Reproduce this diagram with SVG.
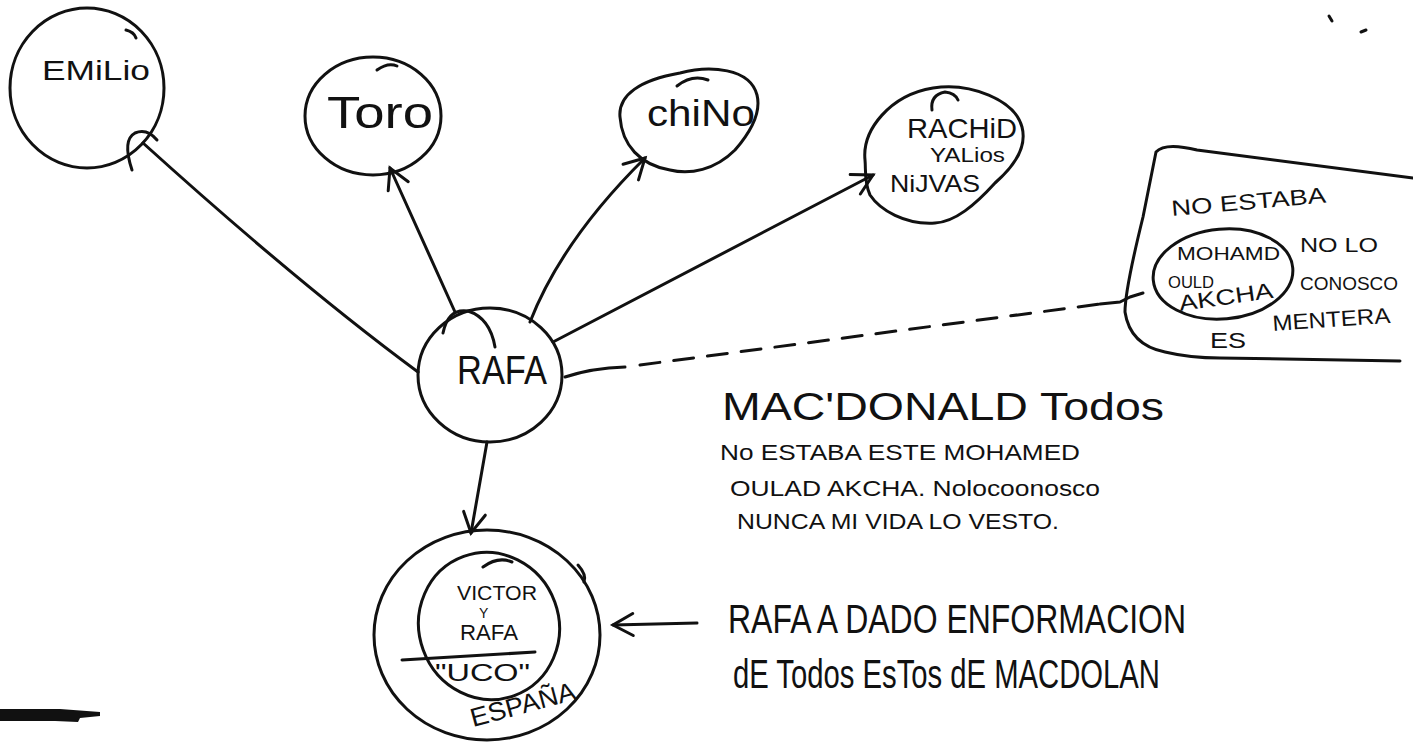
<svg xmlns="http://www.w3.org/2000/svg" width="1413" height="744" viewBox="0 0 1413 744">
<style>
.s{fill:none;stroke:#111;stroke-width:3;stroke-linecap:round;stroke-linejoin:round}
.t{font-family:"Liberation Sans",Arial,sans-serif;fill:#111}
.d{stroke-dasharray:20 14}
</style>
<defs>
<marker id="ah" viewBox="-24 -14 28 28" refX="0" refY="0" markerWidth="28" markerHeight="28" markerUnits="userSpaceOnUse" orient="auto">
<path d="M-20,-11 L0,0 L-20,11" fill="none" stroke="#111" stroke-width="3" stroke-linecap="round"/>
</marker>
</defs>
<rect width="1413" height="744" fill="#fff"/>

<g id="connectors">
<path class="s" d="M418,372 Q300,285 143,143"/>
<path class="s" d="M132,170 Q122,140 135,133 Q147,128 157,140"/>
<path class="s" d="M455,312 L390,168" marker-end="url(#ah)"/>
<path class="s" d="M530,322 Q562,240 645,158" marker-end="url(#ah)"/>
<path class="s" d="M553,342 L873,175" marker-end="url(#ah)"/>
<path class="s" d="M487,442 L471,533" marker-end="url(#ah)"/>
<path class="s" d="M565,377 Q592,368 625,367"/>
<path class="s d" stroke-width="2" d="M640,365 L1100,304"/>
<path class="s" stroke-width="2" d="M1100,304 L1120,302 L1130,297 L1143,293"/>
<path class="s" d="M697,623 L613,625" marker-end="url(#ah)"/>
</g>

<g id="emilio">
<ellipse class="s" cx="87" cy="88" rx="77" ry="80"/>
<path class="s" d="M126,30 Q134,32 136,38"/>
<text class="t" x="42" y="80" font-size="28" textLength="108" lengthAdjust="spacingAndGlyphs">EMiLio</text>
</g>

<g id="toro">
<ellipse class="s" cx="373" cy="116" rx="68" ry="59"/>
<path class="s" d="M377,70 Q388,62 397,66"/>
<text class="t" x="327" y="128" font-size="44" textLength="106" lengthAdjust="spacingAndGlyphs">Toro</text>
</g>

<g id="chino">
<path class="s" d="M620,117 C618,95 640,80 680,73 C710,65 750,68 757,95 C762,115 748,135 735,150 C715,170 690,175 670,170 C640,165 622,145 620,117 Z"/>
<path class="s" d="M677,86 Q692,74 708,80"/>
<text class="t" x="647" y="126" font-size="36" textLength="108" lengthAdjust="spacingAndGlyphs">chiNo</text>
</g>

<g id="rachid">
<path class="s" d="M865,160 C862,130 890,95 933,88 C970,82 1015,100 1022,127 C1028,150 1010,170 995,183 C975,205 955,222 935,223 C905,225 880,210 870,195 C864,182 866,170 865,160 Z"/>
<path class="s" d="M932,110 Q930,95 945,92 Q955,93 958,100"/>
<text class="t" x="907" y="138" font-size="28" textLength="110" lengthAdjust="spacingAndGlyphs">RACHiD</text>
<text class="t" x="930" y="162" font-size="20" textLength="75" lengthAdjust="spacingAndGlyphs">YALios</text>
<text class="t" x="890" y="192" font-size="24" textLength="90" lengthAdjust="spacingAndGlyphs">NiJVAS</text>
</g>

<g id="rafa">
<ellipse class="s" cx="490" cy="375" rx="72" ry="67"/>
<path class="s" d="M443,333 Q448,308 468,311 Q490,318 495,347"/>
<text class="t" x="457" y="384" font-size="40" textLength="90" lengthAdjust="spacingAndGlyphs">RAFA</text>
</g>

<g id="espana">
<ellipse class="s" cx="487" cy="635" rx="113" ry="105"/>
<ellipse class="s" cx="489" cy="626" rx="70" ry="74" transform="rotate(-20 489 626)"/>
<path class="s" d="M483,567 Q498,556 512,562"/>
<path class="s" d="M578,565 Q587,575 584,582"/>
<text class="t" x="457" y="600" font-size="20" textLength="80" lengthAdjust="spacingAndGlyphs">VICTOR</text>
<text class="t" x="479" y="618" font-size="14">Y</text>
<text class="t" x="460" y="640" font-size="22" textLength="58" lengthAdjust="spacingAndGlyphs">RAFA</text>
<path class="s" stroke-width="2.5" d="M402,660 L535,652"/>
<text class="t" x="435" y="681" font-size="24" textLength="95" lengthAdjust="spacingAndGlyphs">"UCO"</text>
<text class="t" x="473" y="727" font-size="26" textLength="108" lengthAdjust="spacingAndGlyphs" transform="rotate(-15 473 727)">ESPAÑA</text>
</g>

<g id="nota-box">
<path class="s" d="M1413,178 L1197,150 Q1165,142 1156,152 L1143,217 Q1125,290 1125,312 Q1130,345 1165,352 Q1190,358 1220,358 L1400,361"/>
<ellipse class="s" cx="1223" cy="274" rx="70" ry="45" transform="rotate(-5 1223 274)"/>
<text class="t" x="1172" y="216" font-size="22" textLength="155" lengthAdjust="spacingAndGlyphs" transform="rotate(-5 1172 216)">NO ESTABA</text>
<text class="t" x="1177" y="260" font-size="18" textLength="103" lengthAdjust="spacingAndGlyphs">MOHAMD</text>
<text class="t" x="1168" y="288" font-size="16" textLength="46" lengthAdjust="spacingAndGlyphs">OULD</text>
<text class="t" x="1180" y="311" font-size="22" textLength="95" lengthAdjust="spacingAndGlyphs" transform="rotate(-8 1180 311)">AKCHA</text>
<text class="t" x="1300" y="252" font-size="20" textLength="78" lengthAdjust="spacingAndGlyphs">NO LO</text>
<text class="t" x="1300" y="290" font-size="18" textLength="98" lengthAdjust="spacingAndGlyphs">CONOSCO</text>
<text class="t" x="1273" y="331" font-size="22" textLength="118" lengthAdjust="spacingAndGlyphs" transform="rotate(-4 1273 331)">MENTERA</text>
<text class="t" x="1210" y="348" font-size="22" textLength="36" lengthAdjust="spacingAndGlyphs">ES</text>
</g>

<g id="nota-macdonald">
<text class="t" x="722" y="420" font-size="38" textLength="442" lengthAdjust="spacingAndGlyphs">MAC'DONALD  Todos</text>
<text class="t" x="720" y="460" font-size="22" textLength="360" lengthAdjust="spacingAndGlyphs">No ESTABA ESTE MOHAMED</text>
<text class="t" x="730" y="496" font-size="22" textLength="370" lengthAdjust="spacingAndGlyphs">OULAD AKCHA. Nolocoonosco</text>
<text class="t" x="737" y="529" font-size="22" textLength="322" lengthAdjust="spacingAndGlyphs">NUNCA MI VIDA LO VESTO.</text>
</g>

<g id="nota-rafa">
<text class="t" x="728" y="633" font-size="40" textLength="458" lengthAdjust="spacingAndGlyphs">RAFA  A DADO  ENFORMACION</text>
<text class="t" x="733" y="688" font-size="40" textLength="427" lengthAdjust="spacingAndGlyphs">dE Todos  EsTos  dE MACDOLAN</text>
</g>

<g id="marks">
<polygon points="0,709 60,709 100,712 100,716 80,718 78,722 55,721 0,721" fill="#111"/>
<path class="s" stroke-width="2.5" d="M1329,16 L1332,21"/>
<path class="s" stroke-width="2" d="M1361,32 L1366,30"/>
</g>
</svg>
